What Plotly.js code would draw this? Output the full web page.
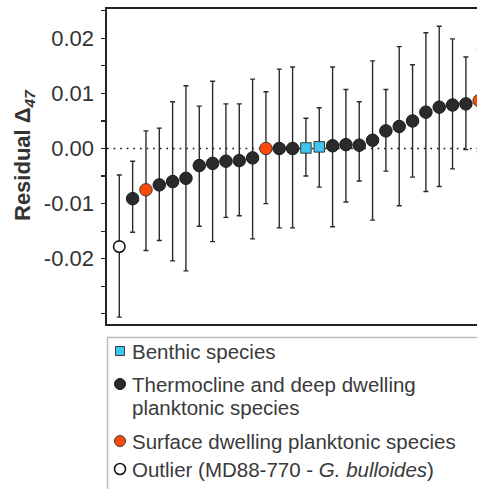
<!DOCTYPE html>
<html>
<head>
<meta charset="utf-8">
<script src="https://cdn.plot.ly/plotly-3.0.1.min.js"></script>
<style>html,body{margin:0;padding:0;background:#fff;overflow:hidden;}#chart{width:492px;height:489px;}</style>
</head>
<body>
<div id="chart"></div>
<script>
// ---- data ----
var sampleIndex = [0,1,2,3,4,5,6,7,8,9,10,11,12,13,14,15,16,17,18,19,20,21,22,23,24,25,26,27];
var residual = [-0.0178,-0.0091,-0.0075,-0.0066,-0.0060,-0.0054,-0.0031,-0.0027,-0.0023,-0.0022,-0.0017,0.0000,0.0000,0.0000,0.0001,0.0003,0.0005,0.0007,0.0006,0.0015,0.0032,0.0040,0.0050,0.0066,0.0075,0.0079,0.0081,0.0087];
var upperBound = [-0.0048,-0.0023,0.0032,0.0037,0.0085,0.0114,0.0077,0.0122,0.0081,0.0081,0.0126,0.0103,0.0144,0.0148,0.0055,0.0074,0.0148,0.0107,0.0085,0.0159,0.0107,0.0185,0.0152,0.0210,0.0222,0.0199,0.0166,0.0180];
var lowerBound = [-0.0306,-0.0152,-0.0185,-0.0167,-0.0204,-0.0222,-0.0141,-0.0169,-0.0125,-0.0122,-0.0164,-0.0100,-0.0144,-0.0144,-0.0050,-0.0070,-0.0142,-0.0097,-0.0059,-0.0130,-0.0041,-0.0104,-0.0052,-0.0078,-0.0069,-0.0037,-0.0002,-0.0006];
var sampleGroup = ['outlier','thermo','surface','thermo','thermo','thermo','thermo','thermo','thermo','thermo','thermo','surface','thermo','thermo','benthic','benthic','thermo','thermo','thermo','thermo','thermo','thermo','thermo','thermo','thermo','thermo','thermo','surface'];
var yTickValues = [-0.02,-0.01,0,0.01,0.02];
var yTickLabels = ['-0.02','-0.01','0.00','0.01','0.02'];
var yAxisTitle = '<b>Residual Δ<sub><i>47</i></sub></b>';
var groupOrder = ['thermo','surface','benthic','outlier'];
var legendLabels = {
  benthic: 'Benthic species',
  thermo: ['Thermocline and deep dwelling','planktonic species'],
  surface: 'Surface dwelling planktonic species',
  outlier: 'Outlier (MD88-770 - <i>G. bulloides</i>)'
};

// ---- styles ----
var styles = {
  thermo:  {symbol:'circle', size:12.5, color:'#2a2a2a', line:'#1a1a1a', lw:1},
  surface: {symbol:'circle', size:12.5, color:'#fc4a0a', line:'#3a3a3a', lw:1},
  benthic: {symbol:'square', size:10.5, color:'#3ec5f0', line:'#3a3a3a', lw:1},
  outlier: {symbol:'circle', size:11.5, color:'#ffffff', line:'#1a1a1a', lw:1.6}
};

var traces = groupOrder.map(function(g){
  var xs=[], ys=[], ep=[], em=[];
  for (var i=0;i<sampleIndex.length;i++){
    if (sampleGroup[i]!==g) continue;
    xs.push(sampleIndex[i]); ys.push(residual[i]);
    ep.push(upperBound[i]-residual[i]); em.push(residual[i]-lowerBound[i]);
  }
  var s = styles[g];
  return {
    type:'scatter', mode:'markers', x:xs, y:ys, cliponaxis:false, showlegend:false,
    error_y:{type:'data', symmetric:false, array:ep, arrayminus:em, color:'#2b2b2b', thickness:1.4, width:2.5},
    marker:{symbol:s.symbol, size:s.size, color:s.color, line:{color:s.line, width:s.lw}}
  };
});

// ---- layout helpers (pixel -> paper) ----
var W=492, H=489, ML=107, MR=0, MT=9, MB=165;
function px(x){ return (x-ML)/(W-ML-MR); }
function py(y){ return (H-MB-y)/(H-MT-MB); }
var FONT = 'Liberation Sans, Arial, Helvetica, sans-serif';

var shapes = [
  {type:'line', xref:'paper', yref:'y', x0:0, x1:1, y0:0, y1:0, layer:'below',
   line:{color:'#111', width:1.6, dash:'1.6px,5px'}},
  // legend box (top and left edges; the rest lies outside the picture)
  {type:'line', xref:'paper', yref:'paper', x0:px(107), x1:1, y0:py(337.5), y1:py(337.5), line:{color:'#bdbdbd', width:1.5}},
  {type:'line', xref:'paper', yref:'paper', x0:px(107.5), x1:px(107.5), y0:py(337.5), y1:py(495), line:{color:'#bdbdbd', width:1.5}}
];
var annotations = [
  {xref:'paper', yref:'paper', x:px(24), y:py(155), xanchor:'center', yanchor:'middle', textangle:-90,
   text:yAxisTitle, showarrow:false, font:{family:FONT, size:22, color:'#333'}}
];
var legendRows = [
  {g:'benthic', y:351},
  {g:'thermo', y:384},
  {g:'surface', y:441},
  {g:'outlier', y:469}
];
legendRows.forEach(function(r){
  var s = styles[r.g];
  var half = (s.symbol==='square') ? 4.5 : 5.5;
  shapes.push({type: s.symbol==='square'?'rect':'circle', xref:'paper', yref:'paper',
    xsizemode:'pixel', ysizemode:'pixel', xanchor:px(120), yanchor:py(r.y),
    x0:-half, x1:half, y0:-half, y1:half,
    fillcolor:s.color, line:{color:s.line, width:r.g==='outlier'?1.6:1}});
  var lab = legendLabels[r.g];
  var lines = Array.isArray(lab) ? lab : [lab];
  lines.forEach(function(t,k){
    annotations.push({xref:'paper', yref:'paper', x:px(129.5), y:py(r.y+k*23.5), xanchor:'left', yanchor:'middle',
      text:t, showarrow:false, font:{family:FONT, size:20.5, color:'#3a3a3a'}});
  });
});

var layout = {
  width:W, height:H,
  margin:{l:ML, r:MR, t:MT, b:MB, pad:0},
  paper_bgcolor:'#fff', plot_bgcolor:'#fff',
  showlegend:false,
  font:{family:FONT, color:'#333'},
  xaxis:{range:[-0.923, (W-119.3)/13.33], showgrid:false, zeroline:false, showticklabels:false, ticks:'',
    showline:true, mirror:true, linecolor:'#222', linewidth:1.6, fixedrange:true},
  yaxis:{range:[-0.03185, 0.02532], showgrid:false, zeroline:false,
    tickmode:'array', tickvals:yTickValues, ticktext:yTickLabels,
    ticks:'outside', ticklen:4, tickwidth:1.2, tickcolor:'#222',
    minor:{dtick:0.005, tick0:0, ticks:'outside', ticklen:4, tickwidth:1.2, tickcolor:'#222', showgrid:false},
    tickfont:{size:22, color:'#333'}, ticklabelstandoff:3,
    showline:true, mirror:false, linecolor:'#222', linewidth:1.6,
    automargin:false, fixedrange:true},
  shapes:shapes,
  annotations:annotations
};

Plotly.newPlot('chart', traces, layout, {staticPlot:true, displayModeBar:false});
</script>
</body>
</html>
